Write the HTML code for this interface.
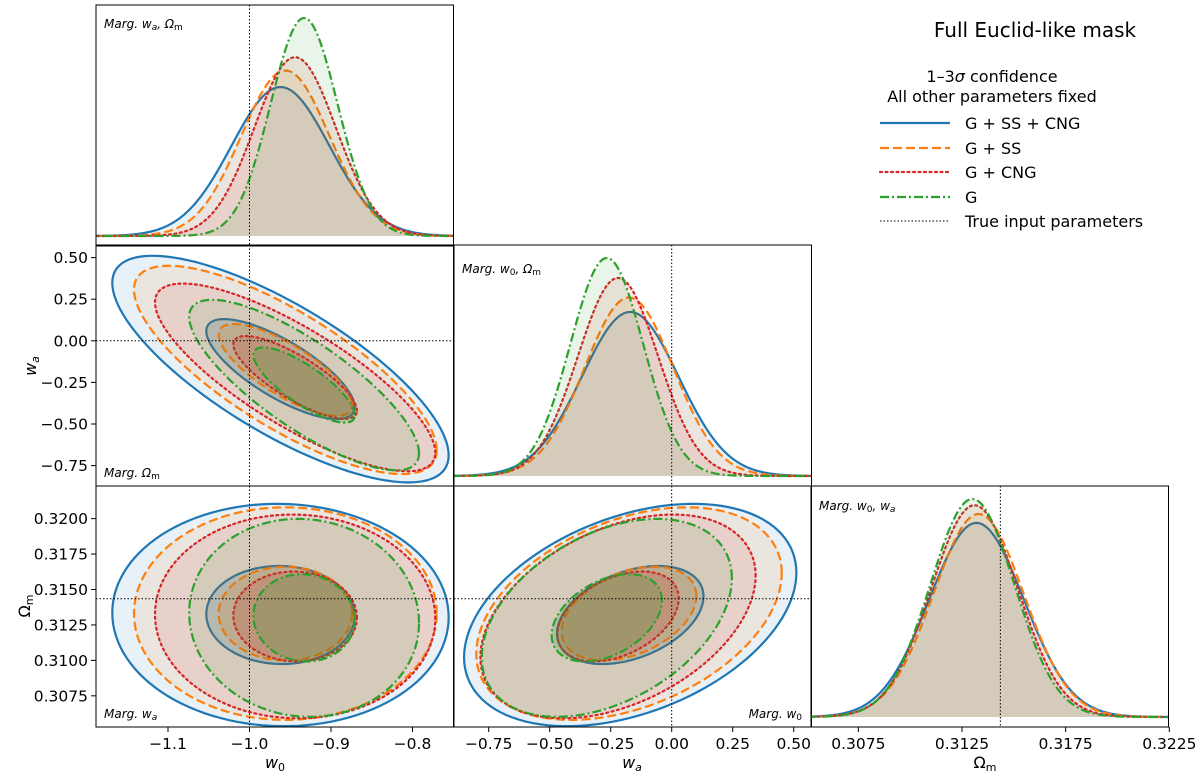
<!DOCTYPE html>
<html><head><meta charset="utf-8"><style>
body{margin:0;background:#fff}
svg{display:block;font-family:"DejaVu Sans","Liberation Sans",sans-serif}
</style></head><body>
<svg id="chart" width="1200" height="780" viewBox="0 0 1200 780"></svg>
<script>
const seriesNames = ["G + SS + CNG","G + SS","G + CNG","G"];
const seriesColors = ["#1f77b4","#ff7f0e","#d62728","#2ca02c"];
const seriesDash = ["none","9,4","2,3.5","9,3,2,3"];
const meanW0 = [-0.962,-0.956,-0.944,-0.933];
const meanWa = [-0.17,-0.175,-0.22,-0.266];
const meanOm = [0.3132,0.3133,0.3131,0.3130];
const sigW0 = [0.060,0.054,0.050,0.041];
const sigWa = [0.198,0.182,0.164,0.149];
const sigOm = [0.00228,0.00218,0.00209,0.00203];
const rhoW0Wa = [-0.76,-0.77,-0.8,-0.8];
const rhoW0Om = [-0.02,0.0,-0.02,-0.05];
const rhoWaOm = [0.38,0.38,0.4,0.4];
const truth = [-1.0,0.0,0.31435];
const levels = [11.83,2.30];
const levelAlpha = [0.1,0.2];
const ticksW0 = [-1.1,-1.0,-0.9,-0.8];
const tickLabW0 = ["−1.1","−1.0","−0.9","−0.8"];
const ticksWa = [-0.75,-0.5,-0.25,0,0.25,0.5];
const tickLabWa = ["−0.75","−0.50","−0.25","0.00","0.25","0.50"];
const ticksOmY = [0.3075,0.31,0.3125,0.315,0.3175,0.32];
const tickLabOmY = ["0.3075","0.3100","0.3125","0.3150","0.3175","0.3200"];
const ticksOmX = [0.3075,0.3125,0.3175,0.3225];
const tickLabOmX = ["0.3075","0.3125","0.3175","0.3225"];

const NS="http://www.w3.org/2000/svg";
const svg=document.getElementById('chart');
function mk(tag,attrs,parent){const e=document.createElementNS(NS,tag);for(const k in attrs)e.setAttribute(k,attrs[k]);(parent||svg).appendChild(e);return e;}
const xW0=v=>249.5+815*(v+1);
const yWa=v=>340.8-166.4*v;
const xWa=v=>671.7+244*v;
const yOm=v=>589.5-14176*(v-0.315);
const xOm=v=>962+20733*(v-0.3125);
const PX=[96,454,811], PY=[5,245,486], PW=357.5, PH=241;

const defs=mk('defs',{});
let clipId=0;
function panel(col,row,name){
  const g=mk('g',{});
  
  
  const id='c'+(clipId++);
  const cp=mk('clipPath',{id:id},defs);
  mk('rect',{x:PX[col],y:PY[row],width:PW,height:PH},cp);
  const inner=mk('g',{'clip-path':'url(#'+id+')'},g);
  return {g,inner,col,row};
}
function frame(p){
  const r=mk('rect',{x:PX[p.col],y:PY[p.row],width:PW,height:PH,fill:'none',stroke:'#000','stroke-width':1},p.g);
  
  
}
function ellipsePath(fx,fy,mx,my,sx,sy,rho,k){
  let d='';const s=Math.sqrt(k),q=Math.sqrt(1-rho*rho);
  for(let i=0;i<=120;i++){const t=i/120*2*Math.PI;
    const x=mx+s*sx*Math.cos(t), y=my+s*sy*(rho*Math.cos(t)+q*Math.sin(t));
    d+=(i?'L':'M')+fx(x).toFixed(2)+','+fy(y).toFixed(2);}
  return d+'Z';
}
function draw2D(p,fx,fy,MX,MY,SX,SY,R,nm){
  for(let s=0;s<4;s++){
    const grp=mk('g',{},p.inner);
    
    
    levels.forEach((k,li)=>{
      const d=ellipsePath(fx,fy,MX[s],MY[s],SX[s],SY[s],R[s],k);
      mk('path',{d:d,fill:seriesColors[s],'fill-opacity':levelAlpha[li],stroke:'none'},grp);
    });
    for(const k of levels){
      const d=ellipsePath(fx,fy,MX[s],MY[s],SX[s],SY[s],R[s],k);
      const e=mk('path',{d:d,fill:'none',stroke:seriesColors[s],'stroke-width':2.2,'stroke-dasharray':seriesDash[s],'stroke-linecap':s==2?'round':'butt'},grp);
      
      
    }
  }
}
function draw1D(p,fx,M,S,lo,hi,nm){
  const base=PY[p.row]+PH-10, top=PY[p.row]+13;
  const pmax=Math.max(...S.map(s=>1/s));
  for(let s=0;s<4;s++){
    let d='';
    for(let i=0;i<=200;i++){const v=lo+(hi-lo)*i/200;
      const pdf=Math.exp(-0.5*((v-M[s])/S[s])**2)/S[s];
      const y=base-(pdf/pmax)*(base-top);
      d+=(i?'L':'M')+fx(v).toFixed(2)+','+y.toFixed(2);}
    const f=mk('path',{d:d+'L'+fx(hi)+','+base+'L'+fx(lo)+','+base+'Z',fill:seriesColors[s],'fill-opacity':0.1,stroke:'none'},p.inner);
    
    
    const l=mk('path',{d:d,fill:'none',stroke:seriesColors[s],'stroke-width':2.2,'stroke-dasharray':seriesDash[s],'stroke-linecap':s==2?'round':'butt'},p.inner);
    
    
  }
}
function vline(p,x){const l=mk('line',{x1:x,x2:x,y1:PY[p.row],y2:PY[p.row]+PH,stroke:'#000','stroke-width':1,'stroke-dasharray':'1.5,2'},p.inner);
  }
function hline(p,y){const l=mk('line',{x1:PX[p.col],x2:PX[p.col]+PW,y1:y,y2:y,stroke:'#000','stroke-width':1,'stroke-dasharray':'1.5,2'},p.inner);
  }
function note(x,y,txt,anchor){const t=mk('text',{x:x,y:y,'font-size':12,'font-style':'italic','text-anchor':anchor||'start'});t.innerHTML=txt;
  }

const pA=panel(0,0,'w0-posterior-panel');
draw1D(pA,xW0,meanW0,sigW0,-1.2,-0.73,'w0-posterior');vline(pA,xW0(truth[0]));frame(pA);
const pB=panel(0,1,'w0-wa-panel');
draw2D(pB,xW0,yWa,meanW0,meanWa,sigW0,sigWa,rhoW0Wa,'w0-wa');vline(pB,xW0(truth[0]));hline(pB,yWa(truth[1]));frame(pB);
const pC=panel(1,1,'wa-posterior-panel');
draw1D(pC,xWa,meanWa,sigWa,-0.9,0.6,'wa-posterior');vline(pC,xWa(truth[1]));frame(pC);
const pD=panel(0,2,'w0-om-panel');
draw2D(pD,xW0,yOm,meanW0,meanOm,sigW0,sigOm,rhoW0Om,'w0-om');vline(pD,xW0(truth[0]));hline(pD,yOm(truth[2]));frame(pD);
const pE=panel(1,2,'wa-om-panel');
draw2D(pE,xWa,yOm,meanWa,meanOm,sigWa,sigOm,rhoWaOm,'wa-om');vline(pE,xWa(truth[1]));hline(pE,yOm(truth[2]));frame(pE);
const pF=panel(2,2,'om-posterior-panel');
draw1D(pF,xOm,meanOm,sigOm,0.305,0.3226,'om-posterior');vline(pF,xOm(truth[2]));frame(pF);

function xticks(vals,labs,fx,yAx,nm){
  vals.forEach((v,i)=>{const x=fx(v);
    mk('line',{x1:x,x2:x,y1:yAx,y2:yAx+5,stroke:'#000','stroke-width':1});
    const t=mk('text',{x:x,y:yAx+22,'font-size':15.5,'text-anchor':'middle'});t.textContent=labs[i];
    });
}
function yticks(vals,labs,fy,xAx,nm){
  vals.forEach((v,i)=>{const y=fy(v);
    mk('line',{x1:xAx-5,x2:xAx,y1:y,y2:y,stroke:'#000','stroke-width':1});
    const t=mk('text',{x:xAx-8,y:y+5.5,'font-size':15.5,'text-anchor':'end'});t.textContent=labs[i];
    });
}
xticks(ticksW0,tickLabW0,xW0,727,'w0');
xticks(ticksWa,tickLabWa,xWa,727,'wa');
xticks(ticksOmX,tickLabOmX,xOm,727,'om-x');
yticks(ticksWa,tickLabWa,yWa,96,'wa-y');
yticks(ticksOmY,tickLabOmY,yOm,96,'om-y');

function label(x,y,html,rot,nm){const t=mk('text',{x:x,y:y,'font-size':16,'text-anchor':'middle',transform:rot?`rotate(-90 ${x} ${y})`:''});t.innerHTML=html;
  }
label(275,768,'<tspan font-style="italic">w</tspan><tspan font-size="11" dy="3">0</tspan>',false,'x-axis-title-w0');
label(632,768,'<tspan font-style="italic">w</tspan><tspan font-size="11" font-style="italic" dy="3">a</tspan>',false,'x-axis-title-wa');
label(985,768,'Ω<tspan font-size="11" dy="3">m</tspan>',false,'x-axis-title-om');
label(36,366,'<tspan font-style="italic">w</tspan><tspan font-size="11" font-style="italic" dy="3">a</tspan>',true,'y-axis-title-wa');
label(30,606,'Ω<tspan font-size="11" dy="3">m</tspan>',true,'y-axis-title-om');

note(104,28,'Marg. <tspan>w</tspan><tspan font-size="9" dy="2">a</tspan><tspan dy="-2">, Ω</tspan><tspan font-size="9" dy="2" font-style="normal">m</tspan>');
note(462,273,'Marg. w<tspan font-size="9" dy="2" font-style="normal">0</tspan><tspan dy="-2">, Ω</tspan><tspan font-size="9" dy="2" font-style="normal">m</tspan>');
note(104,477,'Marg. Ω<tspan font-size="9" dy="2" font-style="normal">m</tspan>');
note(104,718,'Marg. w<tspan font-size="9" dy="2">a</tspan>');
note(802,718,'Marg. w<tspan font-size="9" dy="2" font-style="normal">0</tspan>','end');
note(819,510,'Marg. w<tspan font-size="9" dy="2" font-style="normal">0</tspan><tspan dy="-2">, w</tspan><tspan font-size="9" dy="2">a</tspan>');

const lg=mk('g',{});


const tt=mk('text',{x:1035,y:37,'font-size':20,'text-anchor':'middle'},lg);tt.textContent='Full Euclid-like mask';

const s1=mk('text',{x:992,y:82,'font-size':16,'text-anchor':'middle'},lg);s1.innerHTML='1–3<tspan font-style="italic">σ</tspan> confidence';

const s2=mk('text',{x:992,y:102,'font-size':16,'text-anchor':'middle'},lg);s2.textContent='All other parameters fixed';

const legY=[123,148,172,197,221];
for(let i=0;i<5;i++){
  const e=mk('g',{},lg);
  
  
  if(i<4) mk('line',{x1:880,x2:950,y1:legY[i],y2:legY[i],stroke:seriesColors[i],'stroke-width':2.2,'stroke-dasharray':seriesDash[i],'stroke-linecap':i==2?'round':'butt'},e);
  else mk('line',{x1:880,x2:950,y1:legY[i],y2:legY[i],stroke:'#000','stroke-width':1,'stroke-dasharray':'1.5,2'},e);
  const t=mk('text',{x:965,y:legY[i]+6,'font-size':16},e);
  t.textContent=i<4?seriesNames[i]:'True input parameters';
}
</script>
</body></html>
